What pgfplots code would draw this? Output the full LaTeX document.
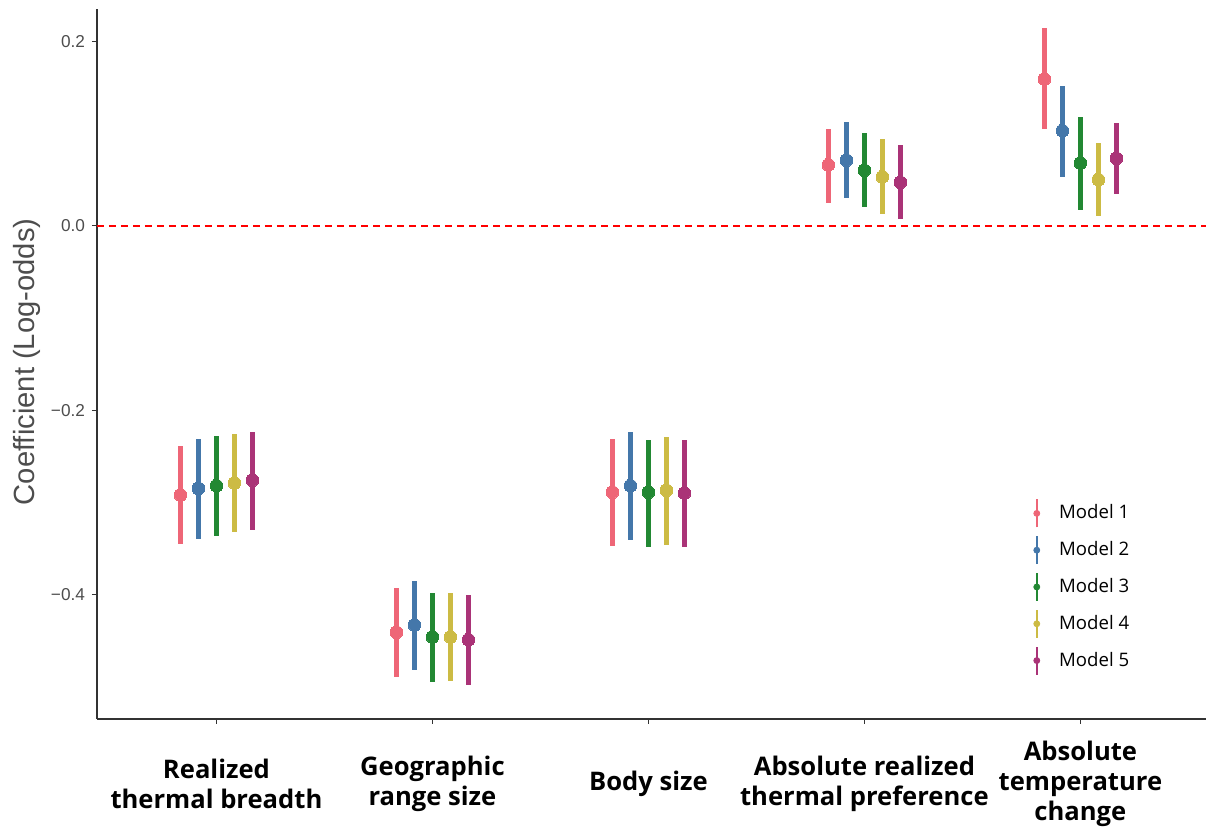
\documentclass[border=0pt]{standalone}
\usepackage{pgfplots}
\pgfplotsset{compat=1.18}
\usepackage{pgfplotstable}
\usepackage{fontspec}
\setmainfont{Liberation Sans}
\newfontfamily\labelfont{Open Sans}

\definecolor{m1}{HTML}{EE6677}
\definecolor{m2}{HTML}{4477AA}
\definecolor{m3}{HTML}{228833}
\definecolor{m4}{HTML}{CCBB44}
\definecolor{m5}{HTML}{AA3377}
\definecolor{axisgray}{HTML}{333333}
\definecolor{textgray}{HTML}{4D4D4D}
\definecolor{zeroline}{RGB}{255,0,0}

% predictor index, estimate, lower and upper bound of the interval
\pgfplotstableread{
g est lo hi
1 -0.292 -0.345 -0.239
2 -0.441 -0.490 -0.393
3 -0.289 -0.347 -0.231
4 0.066 0.025 0.105
5 0.159 0.105 0.214
}\modelone
\pgfplotstableread{
g est lo hi
1 -0.285 -0.340 -0.231
2 -0.433 -0.482 -0.385
3 -0.282 -0.341 -0.224
4 0.071 0.030 0.112
5 0.103 0.053 0.151
}\modeltwo
\pgfplotstableread{
g est lo hi
1 -0.282 -0.337 -0.228
2 -0.446 -0.495 -0.398
3 -0.289 -0.348 -0.232
4 0.060 0.020 0.101
5 0.068 0.017 0.118
}\modelthree
\pgfplotstableread{
g est lo hi
1 -0.279 -0.332 -0.226
2 -0.446 -0.494 -0.398
3 -0.287 -0.346 -0.229
4 0.053 0.013 0.094
5 0.050 0.011 0.090
}\modelfour
\pgfplotstableread{
g est lo hi
1 -0.276 -0.330 -0.224
2 -0.449 -0.498 -0.401
3 -0.290 -0.348 -0.232
4 0.047 0.007 0.087
5 0.073 0.034 0.111
}\modelfive

\pgfplotsset{
  model/.style={
    only marks, mark=*, mark size=3.2pt, color=#1,
    mark options={draw=#1, fill=#1, line width=0pt},
    error bars/.cd, y dir=both, y explicit, error mark=none,
    error bar style={line width=2.1pt, color=#1},
    /pgfplots/legend image code/.code={
      \draw[#1, line width=1pt] (0pt,-7pt) -- (0pt,7pt);
      \fill[#1] (0pt,0pt) circle (1.5pt);
    },
  },
}

\begin{document}
\begin{tikzpicture}
\useasboundingbox (-48.5pt,-54.5pt) rectangle (554.5pt,359.5pt);
\begin{axis}[
  at={(0,0)}, anchor=south west,
  scale only axis,
  width=554.5pt, height=355pt,
  xmin=0.447, xmax=5.5815,
  ymin=-0.535, ymax=0.235,
  axis lines=left,
  axis line style={-, axisgray, line width=0.6pt},
  tick align=outside,
  major tick length=2.5pt,
  tick style={axisgray, line width=0.6pt},
  xtick={1,2,3,4,5},
  xticklabels={
    Realized\\thermal breadth,
    Geographic\\range size,
    Body size,
    Absolute realized\\thermal preference,
    Absolute\\temperature\\change},
  xticklabel style={font=\labelfont\bfseries\fontsize{12.8}{15}\selectfont,
    align=center, anchor=center, yshift=-30pt, text=black},
  ytick={-0.4,-0.2,0,0.2},
  yticklabels={−0.4,−0.2,0.0,0.2},
  yticklabel style={font=\fontsize{8.6}{10}\selectfont, text=textgray},
  ylabel={Coefficient (Log-odds)},
  every axis y label/.style={at={(axis description cs:-0.0635,0.503)},
    rotate=90, anchor=center, font=\fontsize{14.6}{18}\selectfont, text=textgray},
  legend style={draw=none, fill=none, inner sep=0pt,
    at={(axis description cs:0.844,0.3113)}, anchor=north west,
    font=\labelfont\fontsize{9.3}{11}\selectfont,
    nodes={inner sep=2pt}, row sep=3.4pt,
    /tikz/every odd column/.append style={column sep=7.5pt}},
  legend cell align=left,
  clip=false,
]
% reference line at zero, across the whole axis
\draw[zeroline, line width=0.9pt, dash pattern=on 3.5pt off 2.5pt]
  (axis cs:0.447,0) -- (axis cs:5.5815,0);

\addplot[model=m1] table[x expr=\thisrow{g}-0.1667, y=est,
  y error plus expr=\thisrow{hi}-\thisrow{est},
  y error minus expr=\thisrow{est}-\thisrow{lo}] {\modelone};
\addlegendentry{Model 1}
\addplot[model=m2] table[x expr=\thisrow{g}-0.0833, y=est,
  y error plus expr=\thisrow{hi}-\thisrow{est},
  y error minus expr=\thisrow{est}-\thisrow{lo}] {\modeltwo};
\addlegendentry{Model 2}
\addplot[model=m3] table[x expr=\thisrow{g}, y=est,
  y error plus expr=\thisrow{hi}-\thisrow{est},
  y error minus expr=\thisrow{est}-\thisrow{lo}] {\modelthree};
\addlegendentry{Model 3}
\addplot[model=m4] table[x expr=\thisrow{g}+0.0833, y=est,
  y error plus expr=\thisrow{hi}-\thisrow{est},
  y error minus expr=\thisrow{est}-\thisrow{lo}] {\modelfour};
\addlegendentry{Model 4}
\addplot[model=m5] table[x expr=\thisrow{g}+0.1667, y=est,
  y error plus expr=\thisrow{hi}-\thisrow{est},
  y error minus expr=\thisrow{est}-\thisrow{lo}] {\modelfive};
\addlegendentry{Model 5}
\end{axis}
\end{tikzpicture}
\end{document}
